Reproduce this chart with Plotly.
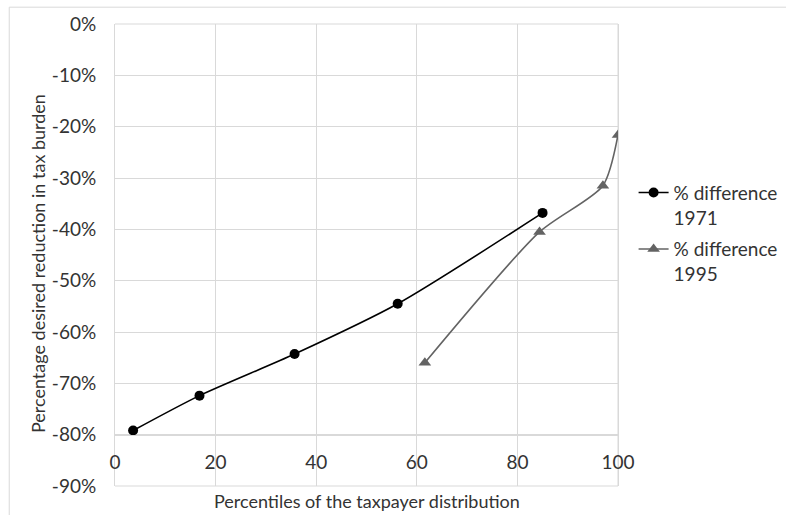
import plotly.graph_objects as go

# Data
x_1971 = [3.6, 16.8, 35.7, 56.2, 85.0]
y_1971 = [-0.792, -0.724, -0.643, -0.545, -0.368]

x_1995 = [61.6, 84.4, 97.0, 100.0]
y_1995 = [-0.660, -0.405, -0.315, -0.216]

name_1971 = "% difference<br>1971"
name_1995 = "% difference<br>1995"

x_ticks = [0, 20, 40, 60, 80, 100]
y_ticks = [0, -0.1, -0.2, -0.3, -0.4, -0.5, -0.6, -0.7, -0.8, -0.9]

FONT = "Lato"
TXT = "#333333"
GRID = "#d9d9d9"

fig = go.Figure()
fig.add_trace(go.Scatter(
    x=x_1971, y=y_1971, name=name_1971, mode="lines+markers", legendgroup="a",
    line=dict(color="#000000", width=1.6, shape="spline", smoothing=0.7),
    marker=dict(symbol="circle", size=10, color="#000000"),
))
fig.add_trace(go.Scatter(
    x=x_1995, y=y_1995, name=name_1995, mode="lines+markers", legendgroup="b",
    line=dict(color="#636363", width=1.6, shape="spline", smoothing=0.7),
    marker=dict(symbol="triangle-up", size=11, color="#636363"),
))

fig.update_layout(
    width=786, height=515,
    margin=dict(l=115, r=168, t=24, b=29, autoexpand=False),
    paper_bgcolor="white", plot_bgcolor="white",
    font=dict(family=FONT, size=19, color=TXT),
    showlegend=True,
    legend=dict(x=1.031, y=0.676, xanchor="left", yanchor="top",
                valign="top", itemwidth=30, tracegroupgap=4,
                font=dict(family=FONT, size=19, color=TXT),
                bgcolor="rgba(0,0,0,0)"),
    xaxis=dict(range=[0, 100], tickvals=x_ticks,
               ticktext=[str(v) for v in x_ticks],
               showgrid=True, gridcolor=GRID, gridwidth=1,
               zeroline=False, showline=True, linecolor=GRID, linewidth=1,
               anchor="free", position=1/9, ticks="",
               ticklabelstandoff=11, tickfont=dict(size=19, color=TXT)),
    yaxis=dict(range=[-0.9, 0], tickvals=y_ticks,
               ticktext=[f"{int(round(v*100))}%" for v in y_ticks],
               showgrid=True, gridcolor=GRID, gridwidth=1,
               zeroline=False, showline=True, linecolor=GRID, linewidth=1,
               mirror=True, ticks="", ticklabelstandoff=14,
               tickfont=dict(size=19, color=TXT)),
    annotations=[
        dict(text="Percentage desired reduction in tax burden",
             xref="paper", yref="paper", x=-0.1517, y=0.482,
             xanchor="center", yanchor="middle", textangle=-90,
             showarrow=False, font=dict(family=FONT, size=18, color=TXT)),
        dict(text="Percentiles of the taxpayer distribution",
             xref="paper", yref="paper", x=0.5, y=-0.0333,
             xanchor="center", yanchor="middle",
             showarrow=False, font=dict(family=FONT, size=18, color=TXT)),
    ],
    shapes=[
        dict(type="rect", xref="paper", yref="paper",
             x0=-0.2103, x1=2.0, y0=-1.0, y1=1.0364,
             line=dict(color=GRID, width=1), fillcolor="rgba(0,0,0,0)",
             layer="below"),
        dict(type="line", xref="paper", yref="paper",
             x0=0, x1=1, y0=0, y1=0, line=dict(color=GRID, width=1),
             layer="below"),
        dict(type="line", xref="paper", yref="paper",
             x0=1, x1=1, y0=0, y1=1, line=dict(color=GRID, width=1),
             layer="below"),
        dict(type="line", xref="paper", yref="paper",
             x0=0, x1=1, y0=1, y1=1, line=dict(color=GRID, width=1),
             layer="below"),
    ],
)

fig.write_html("out.html", config={"displayModeBar": False})

# remove the browser's default page margin so the figure sits at (0, 0)
with open("out.html", "r", encoding="utf-8") as f:
    html = f.read()
html = html.replace(
    "<head>",
    "<head><style>html,body{margin:0;padding:0;overflow:hidden;}</style>",
    1,
)
with open("out.html", "w", encoding="utf-8") as f:
    f.write(html)
